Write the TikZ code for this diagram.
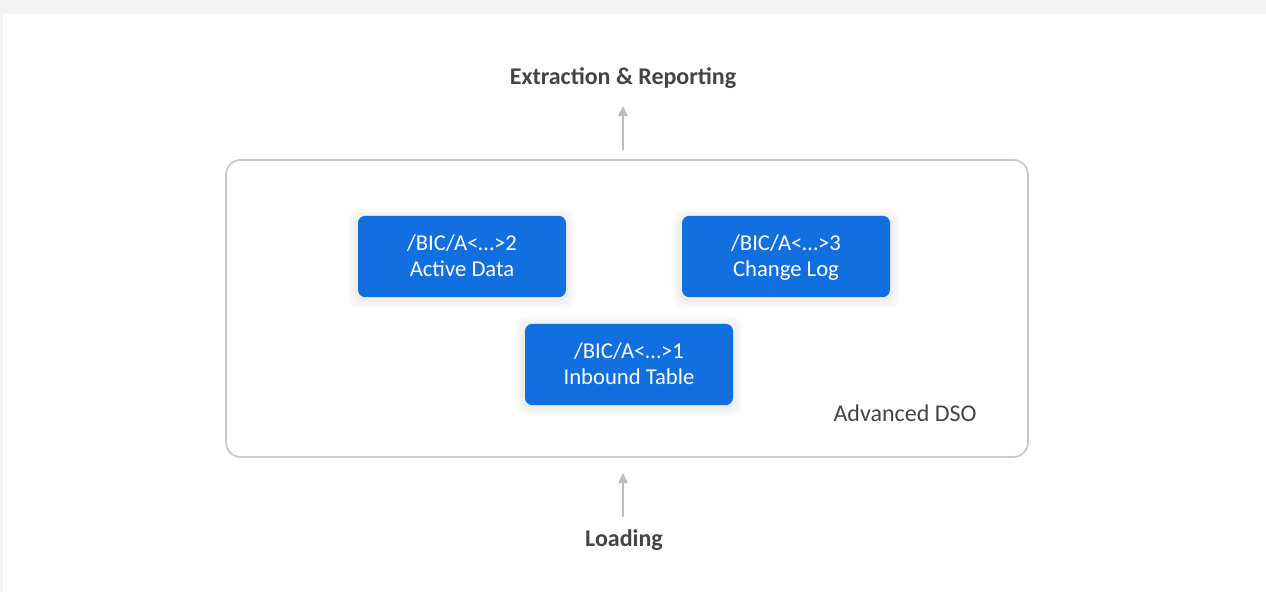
\documentclass[tikz,border=0pt]{standalone}
\usepackage{fontspec}
\setmainfont{Carlito}
\usetikzlibrary{arrows.meta}
\definecolor{tblue}{HTML}{126FDF}
\definecolor{tframe}{HTML}{C8C8C8}
\definecolor{tarrow}{HTML}{BDBDBD}
\definecolor{ttext}{HTML}{444444}
\definecolor{tpage}{HTML}{F3F3F3}
\tikzset{
  table/.style={fill=tblue, draw=none, rounded corners=5.5pt, minimum width=156pt,
    minimum height=61pt, text=white, align=center, font=\fontsize{17}{19}\selectfont,
    text depth=1.5pt},
  heading/.style={text=ttext, font=\bfseries\fontsize{18}{21}\selectfont},
  flow/.style={draw=tarrow, line width=1.2pt, -{Triangle[length=7.5pt,width=7pt]}},
}
\begin{document}
\begin{tikzpicture}[x=0.75pt,y=-0.75pt]
  % page and white card
  \fill[tpage] (0,0) rectangle (1266,592);
  \fill[white] (3,14) rectangle (1266,592);
  \useasboundingbox (0,0) rectangle (1266,592);

  % outer container
  \draw[tframe, line width=1.3pt, rounded corners=11pt] (226,160) rectangle (1028,457);
  \coordinate (frametop) at (623,150);
  \coordinate (framebot) at (623,517);

  % soft halo under the three tables
  \foreach \cx/\cy in {462/256.5, 786/256.5, 629/364.5}{
    \foreach \g in {3,6,9}{
      \fill[black, opacity=0.025, rounded corners=8pt]
        (\cx-104-\g,\cy-40.5-\g+2) rectangle (\cx+104+\g,\cy+40.5+\g+2);
    }
  }

  \node[table] (active) at (462,256.5) {/BIC/A<\dots>2\\Active Data};
  \node[table] (change) at (786,256.5) {/BIC/A<\dots>3\\Change Log};
  \node[table] (inbound) at (629,364.5) {/BIC/A<\dots>1\\Inbound Table};

  \node[text=ttext, font=\fontsize{18}{21}\selectfont] (dso) at (905,413) {Advanced DSO};

  \node[heading] (extract) at (623,78) {Extraction \& Reporting};
  \node[heading] (load) at (624,540) {Loading};

  \draw[flow] (frametop) -- (623,106);
  \draw[flow] (framebot) -- (623,473);
\end{tikzpicture}
\end{document}
